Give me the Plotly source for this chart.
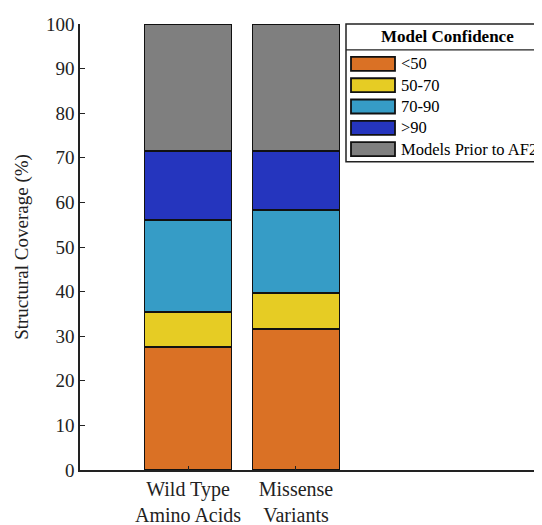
import plotly.graph_objects as go

categories = ["Wild Type<br>Amino Acids", "Missense<br>Variants"]
series_names = ["<50", "50-70", "70-90", ">90", "Models Prior to AF2"]
vals_lt50 = [27.6, 31.7]
vals_50_70 = [7.9, 8.0]
vals_70_90 = [20.6, 18.6]
vals_gt90 = [15.5, 13.3]
vals_prior = [28.4, 28.4]
colors = ["#DA7125", "#E6CC24", "#369CC6", "#2535BE", "#7F7F7F"]
y_ticks = list(range(0, 101, 10))

series_values = [vals_lt50, vals_50_70, vals_70_90, vals_gt90, vals_prior]
xpos = list(range(len(categories)))

W, H = 542, 525
L, R, T, B = 72, 0, 16, 62.5
pw, ph = W - L - R, H - T - B
# window-pixel helpers (page has 8px body offset)
def px(x):
    return (x - 80) / pw
def py(y):
    return (470.5 - y) / ph

FONT = "Liberation Serif"
fig = go.Figure()
for name, vals, col in zip(series_names, series_values, colors):
    fig.add_trace(go.Bar(x=xpos, y=vals, name=name, width=0.806,
                         marker=dict(color=col, line=dict(color="#111111", width=1.8)),
                         showlegend=False))

shapes = []
annotations = []
shapes.append(dict(type="rect", xref="paper", yref="paper", x0=px(346), x1=px(620),
                   y0=py(162), y1=py(24), line=dict(color="#222222", width=1.5),
                   fillcolor="white", layer="above"))
shapes.append(dict(type="line", xref="paper", yref="paper", x0=px(346), x1=px(620),
                   y0=py(50), y1=py(50), line=dict(color="#222222", width=1.2), layer="above"))
annotations.append(dict(text="<b>Model Confidence</b>", xref="paper", yref="paper",
                        x=px(447), y=py(37), xanchor="center", yanchor="middle",
                        showarrow=False, font=dict(family=FONT, size=17, color="black")))
for i, (name, col) in enumerate(zip(series_names, colors)):
    cy = 64 + i * 21.3
    shapes.append(dict(type="rect", xref="paper", yref="paper", x0=px(351), x1=px(395),
                       y0=py(cy + 7), y1=py(cy - 7), fillcolor=col,
                       line=dict(color="#111111", width=1.8), layer="above"))
    annotations.append(dict(text=name, xref="paper", yref="paper", x=px(399), y=py(cy),
                            xanchor="left", yanchor="middle", showarrow=False,
                            font=dict(family=FONT, size=16.5, color="black")))

fig.update_layout(
    width=W, height=H, barmode="stack",
    margin=dict(l=L, r=R, t=T, b=B),
    plot_bgcolor="white", paper_bgcolor="white",
    font=dict(family=FONT, size=19, color="#222222"),
    shapes=shapes, annotations=annotations,
    xaxis=dict(range=[-1.0, 3.352], tickvals=xpos, ticktext=categories,
               showline=True, linecolor="#222222", linewidth=1.5,
               ticks="inside", ticklen=4, tickcolor="#222222", showgrid=False,
               zeroline=False, tickfont=dict(family=FONT, size=20)),
    yaxis=dict(range=[0, 100], tickvals=y_ticks, showline=True, linecolor="#222222",
               linewidth=1.5, ticks="inside", ticklen=5, tickcolor="#222222",
               showgrid=False, zeroline=False,
               title=dict(text="Structural Coverage (%)", standoff=12,
                          font=dict(family=FONT, size=19)),
               tickfont=dict(family=FONT, size=19)),
)
fig.write_html("out.html")
